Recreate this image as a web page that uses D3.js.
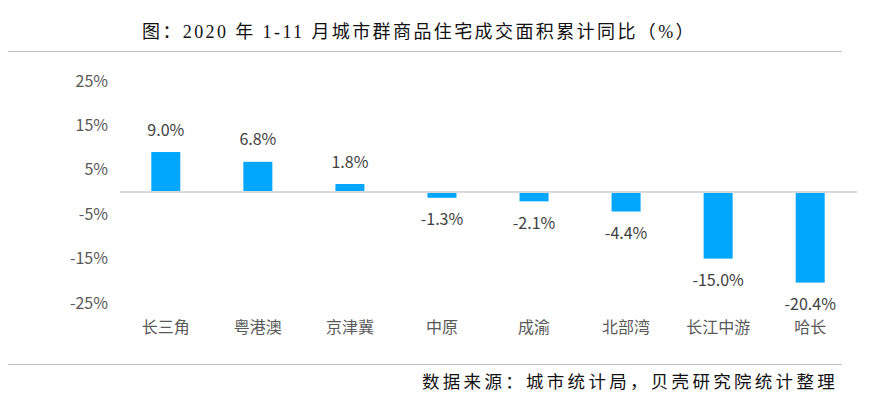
<!DOCTYPE html>
<html>
<head>
<meta charset="utf-8">
<script src="https://cdn.jsdelivr.net/npm/d3@7"></script>
<style>
  body { margin: 0; background: #fff; }
  svg { display: block; }
</style>
</head>
<body>
<svg width="876" height="398"></svg>
<script>
const categories = ['长三角', '粤港澳', '京津冀', '中原', '成渝', '北部湾', '长江中游', '哈长']
const values = [9.0, 6.8, 1.8, -1.3, -2.1, -4.4, -15.0, -20.4]
const yTicks = [25, 15, 5, -5, -15, -25]
const title = '图：2020 年 1-11 月城市群商品住宅成交面积累计同比（%）'
const source = '数据来源：城市统计局，贝壳研究院统计整理'

const sansFont = "'Noto Sans CJK SC', 'Microsoft YaHei', sans-serif"
const serifFont = "'Liberation Serif', 'Noto Sans CJK SC', serif"

const svg = d3.select('svg')

// title + rules
svg.append('text')
  .attr('x', 419).attr('y', 38)
  .attr('text-anchor', 'middle')
  .attr('font-family', serifFont)
  .attr('font-size', 18)
  .attr('letter-spacing', 2.4)
  .attr('fill', '#111')
  .text(title)

svg.append('line')
  .attr('x1', 8).attr('x2', 842).attr('y1', 51.5).attr('y2', 51.5)
  .attr('stroke', '#bfbfbf').attr('stroke-width', 1.2)

svg.append('line')
  .attr('x1', 8).attr('x2', 842).attr('y1', 364.5).attr('y2', 364.5)
  .attr('stroke', '#bfbfbf').attr('stroke-width', 1.2)

svg.append('text')
  .attr('x', 838).attr('y', 388)
  .attr('text-anchor', 'end')
  .attr('font-family', serifFont)
  .attr('font-size', 17.5)
  .attr('letter-spacing', 3.3)
  .attr('fill', '#111')
  .text(source)

// scales
const x = d3.scaleBand()
  .domain(categories)
  .range([120, 856])
  .paddingInner(0.685)
  .paddingOuter(0.34)

const y = d3.scaleLinear()
  .domain([-25, 25])
  .range([303, 81])

// y axis labels
const yAxis = g => g
  .attr('transform', 'translate(108,0)')
  .call(d3.axisLeft(y).tickValues(yTicks).tickSize(0).tickPadding(0).tickFormat(d => d + '%'))
  .call(g => g.select('.domain').remove())
  .call(g => g.selectAll('.tick text')
    .attr('font-family', sansFont)
    .attr('font-size', 16)
    .attr('fill', '#595959'))

svg.append('g').call(yAxis)

// bars
svg.append('g')
  .selectAll('rect')
  .data(values)
  .join('rect')
  .attr('fill', '#00a6fb')
  .attr('x', (d, i) => x(categories[i]))
  .attr('y', d => y(Math.max(d, 0)))
  .attr('width', x.bandwidth())
  .attr('height', d => Math.abs(y(d) - y(0)))

// zero line
svg.append('line')
  .attr('x1', 120).attr('x2', 857)
  .attr('y1', y(0)).attr('y2', y(0))
  .attr('stroke', '#d9d9d9').attr('stroke-width', 2)

// value labels
svg.append('g')
  .attr('font-family', sansFont)
  .attr('font-size', 16)
  .attr('fill', '#404040')
  .attr('text-anchor', 'middle')
  .selectAll('text')
  .data(values)
  .join('text')
  .attr('x', (d, i) => x(categories[i]) + x.bandwidth() / 2)
  .attr('y', d => d >= 0 ? y(d) - 22 : y(d) + 22)
  .attr('dy', '0.35em')
  .text(d => d.toFixed(1) + '%')

// category labels
const xAxis = g => g
  .attr('transform', `translate(0,327)`)
  .call(d3.axisBottom(x).tickSize(0).tickPadding(0))
  .call(g => g.select('.domain').remove())
  .call(g => g.selectAll('.tick text')
    .attr('dy', '0.35em')
    .attr('font-family', sansFont)
    .attr('font-size', 16)
    .attr('fill', '#595959'))

svg.append('g').call(xAxis)
</script>
</body>
</html>
